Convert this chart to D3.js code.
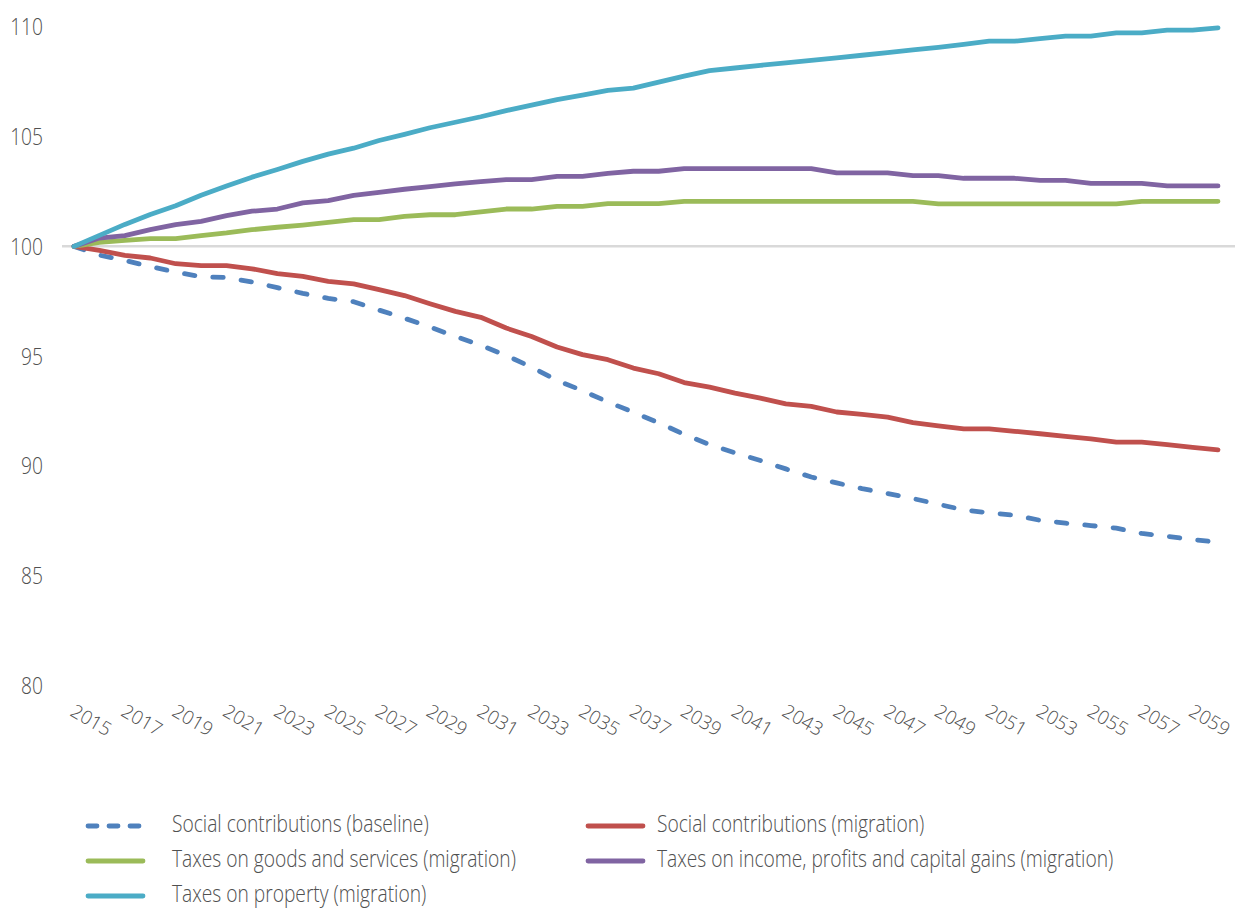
<!DOCTYPE html>
<html>
<head>
<meta charset="utf-8">
<script src="https://cdn.jsdelivr.net/npm/d3@7/dist/d3.min.js"></script>
<style>
  html, body { margin: 0; padding: 0; background: #ffffff; }
  svg { display: block; }
  text { font-family: "Open Sans", "Noto Sans", sans-serif; fill: #505050; font-weight: 300; }
</style>
</head>
<body>
<svg id="chart" width="1235" height="909"></svg>
<script>
const years = [2015,2016,2017,2018,2019,2020,2021,2022,2023,2024,2025,2026,2027,2028,2029,2030,
  2031,2032,2033,2034,2035,2036,2037,2038,2039,2040,2041,2042,2043,2044,2045,2046,2047,2048,2049,
  2050,2051,2052,2053,2054,2055,2056,2057,2058,2059,2060];

const yearTickLabels = [2015,2017,2019,2021,2023,2025,2027,2029,2031,2033,2035,2037,2039,2041,
  2043,2045,2047,2049,2051,2053,2055,2057,2059];

const valueTicks = [80,85,90,95,100,105,110];

const socialBaseline = [100,99.6,99.36,99.08,98.83,98.62,98.58,98.38,98.12,97.86,97.63,97.48,97.1,
  96.73,96.33,95.9,95.5,95.03,94.5,93.9,93.43,92.92,92.45,91.97,91.44,90.98,90.6,90.25,89.87,89.5,
  89.23,88.97,88.75,88.52,88.26,88.0,87.87,87.76,87.53,87.4,87.29,87.17,86.93,86.8,86.65,86.53];

const socialMigration = [100,99.82,99.59,99.47,99.21,99.12,99.12,98.98,98.76,98.63,98.41,98.29,98.03,
  97.76,97.39,97.04,96.77,96.28,95.9,95.42,95.07,94.84,94.46,94.2,93.8,93.59,93.32,93.09,92.83,92.72,
  92.46,92.35,92.23,91.98,91.83,91.69,91.69,91.58,91.47,91.35,91.24,91.09,91.09,90.97,90.85,90.74];

const goodsMigration = [100,100.18,100.27,100.35,100.35,100.49,100.61,100.76,100.87,100.97,101.09,
  101.22,101.22,101.37,101.44,101.44,101.57,101.7,101.7,101.82,101.82,101.95,101.95,101.95,102.05,
  102.05,102.05,102.05,102.05,102.05,102.05,102.05,102.05,102.05,101.93,101.93,101.93,101.93,101.93,
  101.93,101.93,101.93,102.05,102.05,102.05,102.05];

const incomeMigration = [100,100.38,100.49,100.76,100.99,101.14,101.4,101.6,101.7,101.98,102.08,102.32,
  102.46,102.6,102.72,102.84,102.95,103.04,103.04,103.19,103.19,103.32,103.42,103.42,103.54,103.54,
  103.54,103.54,103.54,103.54,103.35,103.35,103.35,103.22,103.22,103.1,103.1,103.1,103.0,103.0,
  102.87,102.87,102.87,102.75,102.75,102.75];

const propertyMigration = [100,100.5,101.0,101.45,101.85,102.33,102.75,103.15,103.5,103.87,104.2,104.47,
  104.82,105.1,105.4,105.65,105.9,106.18,106.43,106.68,106.88,107.1,107.2,107.48,107.75,108.0,108.12,
  108.24,108.35,108.47,108.58,108.7,108.82,108.94,109.06,109.2,109.34,109.34,109.46,109.57,109.57,
  109.72,109.72,109.84,109.84,109.95];

const seriesNames = [
  "Social contributions (baseline)",
  "Social contributions (migration)",
  "Taxes on goods and services (migration)",
  "Taxes on income, profits and capital gains (migration)",
  "Taxes on property (migration)"
];
const seriesColors = ["#4F81BD","#C0504D","#9BBB59","#8064A2","#4BACC6"];
const seriesValues = [socialBaseline, socialMigration, goodsMigration, incomeMigration, propertyMigration];

const SX = 0.8; // horizontal condensation of text

const svg = d3.select("#chart");

const x = d3.scalePoint().domain(years).range([74, 1218]);
const y = d3.scaleLinear().domain([80, 110]).range([685.7, 26.7]);

function condText(parent, px, py, str, opts) {
  const g = parent.append("g").attr("transform", `translate(${px},${py})`);
  const t = g.append("text")
    .attr("transform", `scale(${SX},1)`)
    .attr("text-anchor", opts.anchor || "start")
    .attr("dy", opts.dy || "0.35em")
    .style("font-size", opts.size + "px")
    .text(str);
  return t;
}

// Horizontal axis line at 100
svg.append("line")
  .attr("x1", 62).attr("x2", 1235)
  .attr("y1", y(100)).attr("y2", y(100))
  .attr("stroke", "#d9d9d9").attr("stroke-width", 2.5);

// Y tick labels
const yAxisG = svg.append("g");
valueTicks.forEach(v => {
  condText(yAxisG, 43, y(v), String(v), {anchor: "end", size: 24});
});

// X tick labels (rotated)
const xAxisG = svg.append("g");
yearTickLabels.forEach(yr => {
  xAxisG.append("text")
    .attr("transform", `translate(${x(yr) - 5},715) rotate(30)`)
    .attr("text-anchor", "start")
    .style("font-size", "19px")
    .text(yr);
});

// Lines
const line = d3.line()
  .x((d, i) => x(years[i]))
  .y(d => y(d));

seriesValues.forEach((vals, i) => {
  svg.append("path")
    .datum(vals)
    .attr("d", line)
    .attr("fill", "none")
    .attr("stroke", seriesColors[i])
    .attr("stroke-width", 4.8)
    .attr("stroke-linejoin", "round")
    .attr("stroke-linecap", "round")
    .attr("stroke-dasharray", i === 0 ? "10.5,18" : null);
});

// Legend
const legendPos = [
  {lx: 88, tx: 172, y: 826},
  {lx: 588, tx: 657, y: 826},
  {lx: 88, tx: 172, y: 861},
  {lx: 588, tx: 657, y: 861},
  {lx: 88, tx: 172, y: 896}
];
const legendG = svg.append("g");
seriesNames.forEach((name, i) => {
  const p = legendPos[i];
  legendG.append("line")
    .attr("x1", p.lx).attr("x2", p.lx + 55)
    .attr("y1", p.y).attr("y2", p.y)
    .attr("stroke", seriesColors[i])
    .attr("stroke-width", 4.8)
    .attr("stroke-linecap", "round")
    .attr("stroke-dasharray", i === 0 ? "9,12" : null);
  condText(legendG, p.tx, p.y - 2, name, {anchor: "start", size: 24});
});
</script>
</body>
</html>
